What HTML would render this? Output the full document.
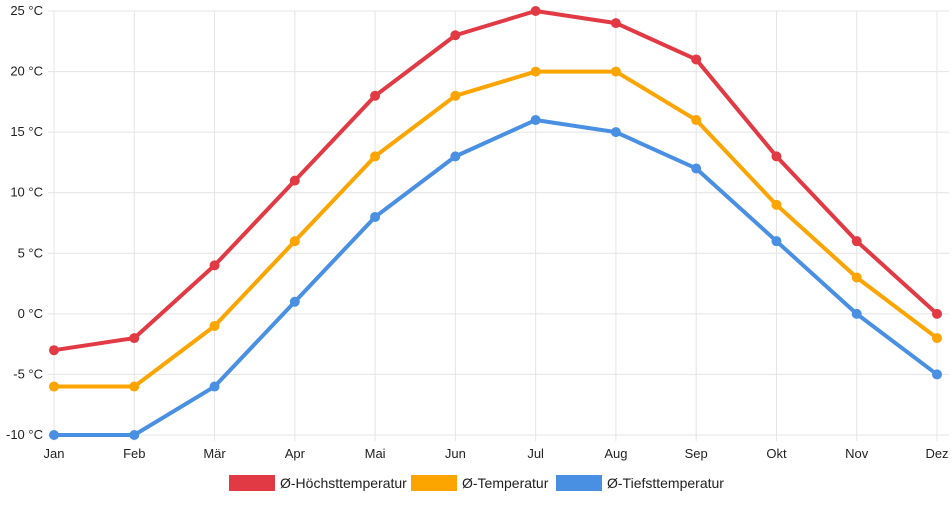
<!DOCTYPE html>
<html><head><meta charset="utf-8"><style>
body{margin:0;background:#fff;font-family:"Liberation Sans",sans-serif}
svg text{font-family:"Liberation Sans",sans-serif;fill:#222}
</style></head><body>
<svg id="c" width="952" height="500"></svg>
<script>
const months=["Jan","Feb","Mär","Apr","Mai","Jun","Jul","Aug","Sep","Okt","Nov","Dez"];
const highTemps=[-3,-2,4,11,18,23,25,24,21,13,6,0];
const meanTemps=[-6,-6,-1,6,13,18,20,20,16,9,3,-2];
const lowTemps=[-10,-10,-6,1,8,13,16,15,12,6,0,-5];
const yTicks=[-10,-5,0,5,10,15,20,25];
const seriesNames=["Ø-Höchsttemperatur","Ø-Temperatur","Ø-Tiefsttemperatur"];
const colors=["#e23a44","#fca400","#4a90e2"];
const svg=document.getElementById('c');
const NS="http://www.w3.org/2000/svg";
const x0=54,x1=937,yTop=11,yBot=435,yMin=-10,yMax=25;
const xs=i=>x0+i*(x1-x0)/(months.length-1);
const ys=v=>yBot-(v-yMin)*(yBot-yTop)/(yMax-yMin);
function el(t,a,p){const e=document.createElementNS(NS,t);for(const k in a)e.setAttribute(k,a[k]);(p||svg).appendChild(e);return e;}
yTicks.forEach(v=>{
 const l=el('line',{x1:x0-6,x2:x1+12,y1:ys(v),y2:ys(v),stroke:'#e4e4e4','stroke-width':1});
 
 
 const t=el('text',{x:43,y:ys(v)+4,'text-anchor':'end','font-size':13});
 t.textContent=v+" °C";
 
 
});
months.forEach((m,i)=>{
 const l=el('line',{x1:xs(i),x2:xs(i),y1:yTop,y2:yBot+6,stroke:'#e4e4e4','stroke-width':1});
 
 
 const t=el('text',{x:xs(i),y:458,'text-anchor':'middle','font-size':13});
 t.textContent=m;
 
 
});
[highTemps,meanTemps,lowTemps].forEach((s,k)=>{
 const g=el('g',{});
 
 
 const p=el('polyline',{points:s.map((v,i)=>xs(i)+','+ys(v)).join(' '),fill:'none',stroke:colors[k],'stroke-width':4,'stroke-linejoin':'round'},g);
 
 
 s.forEach((v,i)=>{
  const c=el('circle',{cx:xs(i),cy:ys(v),r:5,fill:colors[k]},g);
  
  
 });
});
const legX=[229,411,556];
seriesNames.forEach((n,k)=>{
 const g=el('g',{});
 
 
 el('rect',{x:legX[k],y:475,width:46,height:16,fill:colors[k]},g);
 const t=el('text',{x:legX[k]+51,y:488,'font-size':14},g);
 t.textContent=n;
});
</script>
</body></html>
